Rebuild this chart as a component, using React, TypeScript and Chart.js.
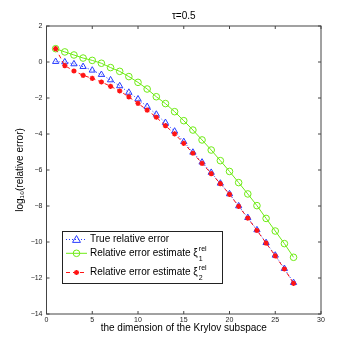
import React, { useEffect, useRef } from "react";
import { Chart, registerables } from "chart.js";

Chart.register(...registerables);

const dims = [1, 2, 3, 4, 5, 6, 7, 8, 9, 10, 11, 12, 13, 14, 15, 16, 17, 18, 19, 20, 21, 22, 23, 24, 25, 26, 27];
const trueError = [0.02, 0.0, -0.11, -0.26, -0.46, -0.7, -1.0, -1.33, -1.69, -2.06, -2.48, -2.91, -3.37, -3.85, -4.43, -5.02, -5.57, -6.14, -6.74, -7.33, -8.0, -8.65, -9.33, -10.04, -10.74, -11.48, -12.26];
const estimate1 = [0.74, 0.56, 0.39, 0.22, 0.09, -0.07, -0.31, -0.52, -0.81, -1.13, -1.5, -1.93, -2.31, -2.76, -3.26, -3.78, -4.33, -4.89, -5.48, -6.08, -6.7, -7.33, -7.98, -8.69, -9.39, -10.09, -10.85];
const estimate2 = [0.74, -0.2, -0.5, -0.74, -0.91, -1.11, -1.35, -1.61, -1.94, -2.3, -2.67, -3.07, -3.54, -3.99, -4.52, -5.07, -5.63, -6.2, -6.76, -7.35, -8.02, -8.67, -9.36, -10.06, -10.77, -11.5, -12.3];

const seriesNames = ["True relative error", "Relative error estimate ξ", "Relative error estimate ξ"];
const seriesSubs = ["", "1", "2"];
const titleText = "τ=0.5";
const xTitle = "the dimension of the Krylov subspace";
const yTitle = "log₁₀(relative error)";

const FONT = "'Liberation Sans', Arial, Helvetica, sans-serif";
const BLUE = "rgb(40,60,255)";
const GREEN = "rgb(110,235,20)";
const RED = "rgb(255,20,20)";

function pts(ys: number[]) {
  return dims.map((d, i) => ({ x: d, y: ys[i] }));
}

function drawMarker(ctx: CanvasRenderingContext2D, style: string, x: number, y: number, r: number) {
  ctx.beginPath();
  if (style === "triangle") {
    ctx.moveTo(x, y - r * 1.1);
    ctx.lineTo(x + r * 1.1, y + r * 0.8);
    ctx.lineTo(x - r * 1.1, y + r * 0.8);
    ctx.closePath();
  } else if (style === "circle") {
    ctx.arc(x, y, r, 0, Math.PI * 2);
  } else {
    for (let k = 0; k < 4; k++) {
      const a = (k * Math.PI) / 4;
      ctx.moveTo(x - Math.cos(a) * r, y - Math.sin(a) * r);
      ctx.lineTo(x + Math.cos(a) * r, y + Math.sin(a) * r);
    }
  }
  ctx.stroke();
}

const boxPlugin = {
  id: "matlabBox",
  afterDraw(chart: any) {
    const { ctx, chartArea, scales } = chart;
    const { left, right, top, bottom } = chartArea;
    const xs = scales.x;
    const ys = scales.y;
    ctx.save();
    ctx.strokeStyle = "#444";
    ctx.lineWidth = 1;
    ctx.setLineDash([]);
    ctx.strokeRect(left, top, right - left, bottom - top);
    ctx.beginPath();
    xs.ticks.forEach((t: any) => {
      const px = xs.getPixelForValue(t.value);
      ctx.moveTo(px, bottom);
      ctx.lineTo(px, bottom - 3);
      ctx.moveTo(px, top);
      ctx.lineTo(px, top + 3);
    });
    ys.ticks.forEach((t: any) => {
      const py = ys.getPixelForValue(t.value);
      ctx.moveTo(left, py);
      ctx.lineTo(left + 3, py);
      ctx.moveTo(right, py);
      ctx.lineTo(right - 3, py);
    });
    ctx.stroke();

    // legend
    const lx = 62, ly = 231, lw = 160, lh = 52;
    ctx.fillStyle = "#fff";
    ctx.fillRect(lx, ly, lw, lh);
    ctx.strokeStyle = "#222";
    ctx.lineWidth = 1;
    ctx.strokeRect(lx + 0.5, ly + 0.5, lw, lh);
    const rowsY = [239.5, 253.3, 272.5];
    chart.data.datasets.forEach((ds: any, i: number) => {
      const yy = rowsY[i];
      ctx.strokeStyle = ds.borderColor;
      ctx.lineWidth = 1;
      ctx.setLineDash(ds.borderDash || []);
      ctx.beginPath();
      ctx.moveTo(66, yy);
      ctx.lineTo(87, yy);
      ctx.stroke();
      ctx.setLineDash([]);
      ctx.lineWidth = ds.pointBorderWidth;
      drawMarker(ctx, ds.pointStyle, 76.5, yy, ds.pointRadius);
      ctx.fillStyle = "#000";
      ctx.font = `10px ${FONT}`;
      ctx.textBaseline = "middle";
      ctx.textAlign = "left";
      const name = seriesNames[i];
      ctx.fillText(name, 90, yy);
      if (seriesSubs[i]) {
        const w = ctx.measureText(name).width;
        ctx.font = `7px ${FONT}`;
        ctx.fillText("rel", 90 + w + 1, yy - 4.5);
        ctx.fillText(seriesSubs[i], 90 + w + 1, yy + 5.5);
      }
    });
    ctx.restore();
  },
};

export default function App() {
  const ref = useRef<HTMLCanvasElement | null>(null);
  useEffect(() => {
    if (!ref.current) return;
    const tickFmt = (v: any) => (v < 0 ? "−" + Math.abs(v) : String(v));
    const chart = new Chart(ref.current, {
      type: "line",
      data: {
        datasets: [
          {
            label: seriesNames[0],
            data: pts(trueError),
            borderColor: BLUE,
            borderWidth: 1,
            borderDash: [1, 2],
            pointStyle: "triangle",
            pointRadius: 3.6,
            pointBorderWidth: 1,
            pointBorderColor: BLUE,
            pointBackgroundColor: "rgba(0,0,0,0)",
            fill: false,
            order: 2,
          },
          {
            label: seriesNames[1] + "1",
            data: pts(estimate1),
            borderColor: GREEN,
            borderWidth: 1,
            pointStyle: "circle",
            pointRadius: 3.3,
            pointBorderWidth: 1,
            pointBorderColor: GREEN,
            pointBackgroundColor: "rgba(0,0,0,0)",
            fill: false,
            order: 1,
          },
          {
            label: seriesNames[2] + "2",
            data: pts(estimate2),
            borderColor: RED,
            borderWidth: 1,
            borderDash: [4, 3],
            pointStyle: "star",
            pointRadius: 2.6,
            pointBorderWidth: 1.4,
            pointBorderColor: RED,
            pointBackgroundColor: RED,
            fill: false,
            order: 0,
          },
        ] as any,
      },
      options: {
        animation: false,
        responsive: false,
        devicePixelRatio: 1,
        layout: { padding: { left: 0, right: 33, top: 0, bottom: 0 } },
        plugins: {
          legend: { display: false },
          tooltip: { enabled: false },
          title: {
            display: true,
            text: titleText,
            fullSize: false,
            color: "#000",
            font: { family: FONT, size: 10, weight: "normal", lineHeight: 1.2 },
            padding: { top: 10.7, bottom: 3.3 },
          },
        },
        scales: {
          x: {
            type: "linear",
            min: 0,
            max: 30,
            ticks: {
              stepSize: 5,
              padding: 2,
              color: "#222",
              font: { family: FONT, size: 7 },
              maxRotation: 0,
              callback: tickFmt,
            },
            grid: { display: false, drawTicks: false },
            border: { display: false },
            title: {
              display: true,
              text: xTitle,
              color: "#000",
              font: { family: FONT, size: 10, lineHeight: 1.2 },
              padding: { top: 0, bottom: 19.3 },
            },
            afterFit(scale: any) {
              scale.height = 40;
            },
          },
          y: {
            type: "linear",
            min: -14,
            max: 2,
            ticks: {
              stepSize: 2,
              padding: 4,
              color: "#222",
              font: { family: FONT, size: 7 },
              callback: tickFmt,
            },
            grid: { display: false, drawTicks: false },
            border: { display: false },
            title: {
              display: true,
              text: yTitle,
              color: "#000",
              font: { family: FONT, size: 10, lineHeight: 1.2 },
              padding: { top: 14, bottom: 0 },
            },
            afterFit(scale: any) {
              scale.width = 46.5;
            },
          },
        },
      } as any,
      plugins: [boxPlugin],
    });
    return () => chart.destroy();
  }, []);
  return (
    <div style={{ position: "absolute", left: 0, top: 0, width: 354, height: 354, background: "#fff" }}>
      <canvas ref={ref} width={354} height={354} style={{ display: "block" }} />
    </div>
  );
}
